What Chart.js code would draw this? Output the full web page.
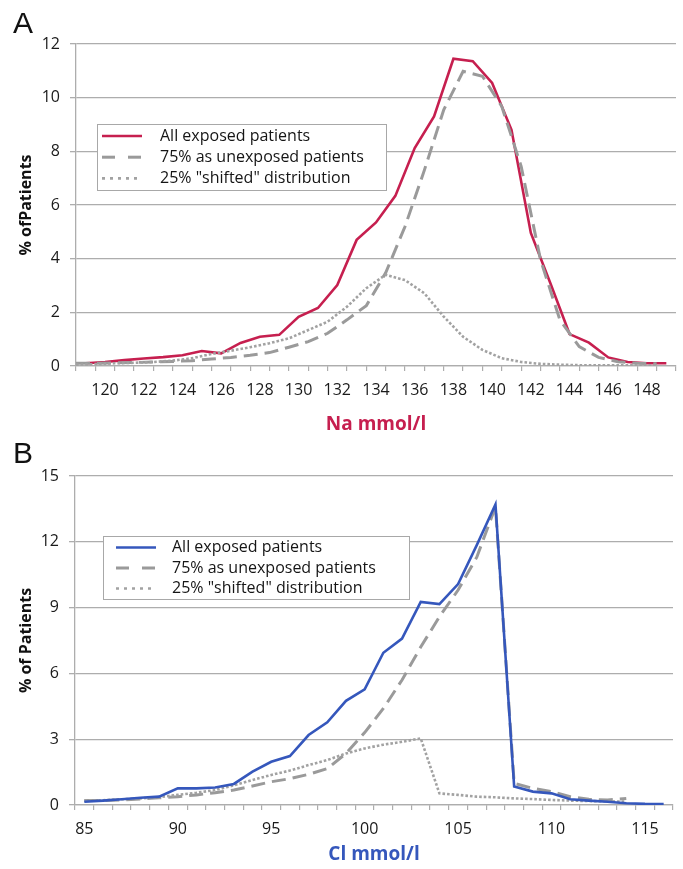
<!DOCTYPE html>
<html>
<head>
<meta charset="utf-8">
<script src="https://cdn.jsdelivr.net/npm/chart.js@4"></script>
<style>
  body { margin: 0; background: #fff; }
  #page { position: relative; width: 683px; height: 869px; }
  .panel-letter { position: absolute; left: 13px; font: 30px/30px "Liberation Sans", Arial, sans-serif; color: #111; }
  canvas { position: absolute; left: 0; }
</style>
</head>
<body>
<div id="page">
  <canvas id="na-chart" width="683" height="440" style="top:0"></canvas>
  <canvas id="cl-chart" width="683" height="429" style="top:440px"></canvas>
  <div class="panel-letter" style="top:8px">A</div>
  <div class="panel-letter" style="top:438px">B</div>
</div>
<script>
// ---- panel A : sodium ----
const naLevels = [119,120,121,122,123,124,125,126,127,128,129,130,131,132,133,134,
                  135,136,137,138,139,140,141,142,143,144,145,146,147,148,149];
const naAll = [0.1,0.15,0.22,0.28,0.33,0.4,0.56,0.47,0.86,1.09,1.16,1.83,2.16,3.02,4.7,5.35,
               6.34,8.12,9.3,11.45,11.36,10.55,8.8,4.96,3.1,1.19,0.87,0.32,0.15,0.1,0.1];
// the two gray curves sit on the tick marks, half a step left of the red one
const naShiftLevels = [118.5,119.5,120.5,121.5,122.5,123.5,124.5,125.5,126.5,127.5,128.5,
                       129.5,130.5,131.5,132.5,133.5,134.5,135.5,136.5,137.5,138.5,139.5,
                       140.5,141.5,142.5,143.5,144.5,145.5,146.5,147.5,148.5];
const naUnexposed = [0.1,0.1,0.12,0.13,0.15,0.17,0.2,0.26,0.32,0.4,0.5,0.7,0.91,1.22,1.72,2.25,
                     3.47,5.2,7.3,9.55,10.98,10.8,9.67,7.44,3.96,1.72,0.72,0.32,0.16,0.1,0.08];
const naShifted = [0.05,0.07,0.1,0.12,0.15,0.2,0.29,0.45,0.57,0.7,0.85,1.03,1.34,1.65,2.21,2.9,
                   3.4,3.2,2.71,1.84,1.09,0.6,0.29,0.15,0.08,0.05,0.03,0.03,0.03,0.03,0.03];
const naTickLabels = [120,122,124,126,128,130,132,134,136,138,140,142,144,146,148];
const naYTicks = [0,2,4,6,8,10,12];

// ---- panel B : chloride ----
const clLevels = [85,86,87,88,89,90,91,92,93,94,95,96,97,98,99,100,
                  101,102,103,104,105,106,107,108,109,110,111,112,113,114,115,116];
const clAll = [0.15,0.2,0.26,0.33,0.38,0.76,0.76,0.8,0.96,1.52,1.97,2.23,3.19,3.77,4.75,5.27,
               6.94,7.59,9.26,9.16,10.07,11.85,13.7,0.84,0.61,0.53,0.26,0.2,0.15,0.08,0.05,0.04];
const clUnexposed = [0.2,0.2,0.23,0.27,0.33,0.38,0.46,0.56,0.68,0.87,1.06,1.2,1.4,1.66,2.35,3.3,
                     4.4,5.7,7.2,8.58,9.8,11.3,13.6,0.99,0.76,0.61,0.38,0.26,0.23,0.3];
const clShifted = [0.2,0.22,0.26,0.3,0.36,0.46,0.56,0.68,0.9,1.14,1.37,1.57,1.82,2.05,2.35,2.58,
                   2.75,2.88,3.04,0.53,0.46,0.38,0.35,0.3,0.27,0.23,0.2,0.18,0.17,0.15];
const clTickLabels = [85,90,95,100,105,110,115];
const clYTicks = [0,3,6,9,12,15];

const seriesNames = ['All exposed patients', '75% as unexposed patients', '25% "shifted" distribution'];

const RED = '#C61F4F';
const BLUE = '#3557BC';
const GRAY = '#9A9A9A';
const GRID = '#ADADAD';

Chart.defaults.font.family = '"Open Sans", sans-serif';
Chart.defaults.font.size = 16;
Chart.defaults.color = '#1a1a1a';

function pairs(xs, ys) {
  return ys.map((y, i) => ({ x: xs[i], y: y }));
}

// legend drawn as a framed box inside the plot, like the original
const boxLegend = {
  id: 'boxLegend',
  afterDraw(chart, args, opts) {
    const { ctx, chartArea } = chart;
    const x = chartArea.left + opts.left;
    const y = chartArea.top + opts.top;
    ctx.save();
    ctx.fillStyle = '#fff';
    ctx.fillRect(x, y, opts.width, opts.height);
    ctx.strokeStyle = '#A8A8A8';
    ctx.lineWidth = 1;
    ctx.strokeRect(Math.round(x) + 0.5, Math.round(y) + 0.5, opts.width, opts.height);
    ctx.font = '16px "Open Sans", sans-serif';
    ctx.textBaseline = 'middle';
    chart.data.datasets.forEach((ds, i) => {
      const rowY = y + opts.firstRow + i * opts.rowGap;
      ctx.strokeStyle = ds.borderColor;
      ctx.lineWidth = ds.borderWidth;
      ctx.setLineDash(opts.dashes[i]);
      ctx.beginPath();
      ctx.moveTo(x + opts.lineStart, rowY);
      ctx.lineTo(x + opts.lineStart + 40, rowY);
      ctx.stroke();
      ctx.setLineDash([]);
      ctx.fillStyle = '#151515';
      ctx.fillText(ds.label, x + opts.textStart, rowY);
    });
    ctx.restore();
  }
};

function makeChart(canvasId, cfg) {
  return new Chart(document.getElementById(canvasId), {
    type: 'line',
    data: {
      datasets: [
        {
          label: seriesNames[0],
          data: pairs(cfg.levels, cfg.all),
          borderColor: cfg.color,
          borderWidth: 2.6,
          order: cfg.mainOrder
        },
        {
          label: seriesNames[1],
          data: pairs(cfg.grayLevels, cfg.unexposed),
          borderColor: GRAY,
          borderWidth: 3,
          borderDash: [14, 7],
          order: 2
        },
        {
          label: seriesNames[2],
          data: pairs(cfg.grayLevels, cfg.shifted),
          borderColor: '#A2A2A2',
          borderWidth: 2.6,
          borderDash: [2.6, 2],
          order: 1
        }
      ]
    },
    options: {
      responsive: false,
      animation: false,
      elements: { point: { radius: 0 }, line: { tension: 0, fill: false } },
      layout: { padding: { top: cfg.padTop, right: cfg.padRight, left: 0, bottom: 0 } },
      plugins: {
        legend: { display: false },
        tooltip: { enabled: false },
        boxLegend: cfg.legend
      },
      scales: {
        x: {
          type: 'linear',
          min: cfg.xMin,
          max: cfg.xMax,
          afterBuildTicks: (scale) => { scale.ticks = cfg.levels.map(v => ({ value: v })); },
          afterFit: (scale) => { scale.height = cfg.xHeight; },
          grid: { offset: true, drawOnChartArea: false, drawTicks: true, tickLength: 5, color: GRID, lineWidth: 1.2 },
          border: { display: true, color: GRID, width: 1.3 },
          ticks: {
            autoSkip: false,
            maxRotation: 0,
            padding: 10,
            color: '#1a1a1a',
            callback: (v) => cfg.tickLabels.includes(v) ? String(v) : ''
          },
          title: {
            display: true,
            text: cfg.xTitle,
            color: cfg.color,
            font: { size: 19, weight: 'bold' },
            padding: { top: 0, bottom: cfg.xTitlePad }
          }
        },
        y: {
          min: 0,
          max: cfg.yTicks[cfg.yTicks.length - 1],
          afterBuildTicks: (scale) => { scale.ticks = cfg.yTicks.map(v => ({ value: v })); },
          afterFit: (scale) => { scale.width = cfg.yWidth; },
          grid: { color: GRID, lineWidth: 1.3, tickLength: 6 },
          border: { display: true, color: GRID, width: 1.3 },
          ticks: { padding: 10, color: '#1a1a1a' },
          title: {
            display: true,
            text: cfg.yTitle,
            color: '#111',
            font: { size: 16, weight: 'bold' },
            padding: { top: 17, bottom: 0 }
          }
        }
      }
    },
    plugins: [boxLegend]
  });
}

makeChart('na-chart', {
  levels: naLevels, grayLevels: naShiftLevels,
  all: naAll, unexposed: naUnexposed, shifted: naShifted,
  tickLabels: naTickLabels, yTicks: naYTicks,
  xMin: 118.5, xMax: 149.5,
  color: RED, mainOrder: 3,
  xTitle: 'Na mmol/l', yTitle: '% ofPatients',
  padTop: 44, padRight: 7, xHeight: 74, yWidth: 76, xTitlePad: 4,
  legend: { left: 21, top: 80, width: 289, height: 66, firstRow: 12, rowGap: 21.2,
            lineStart: 5, textStart: 63, dashes: [[], [13, 13], [3, 5]] }
});

makeChart('cl-chart', {
  levels: clLevels, grayLevels: clLevels,
  all: clAll, unexposed: clUnexposed, shifted: clShifted,
  tickLabels: clTickLabels, yTicks: clYTicks,
  xMin: 84.5, xMax: 116.5,
  color: BLUE, mainOrder: 0,
  xTitle: 'Cl mmol/l', yTitle: '% of Patients',
  padTop: 36, padRight: 10, xHeight: 64, yWidth: 75, xTitlePad: 3,
  legend: { left: 28, top: 60, width: 306, height: 63, firstRow: 11.5, rowGap: 20.5,
            lineStart: 13, textStart: 69, dashes: [[], [13, 13], [3, 5]] }
});
</script>
</body>
</html>
